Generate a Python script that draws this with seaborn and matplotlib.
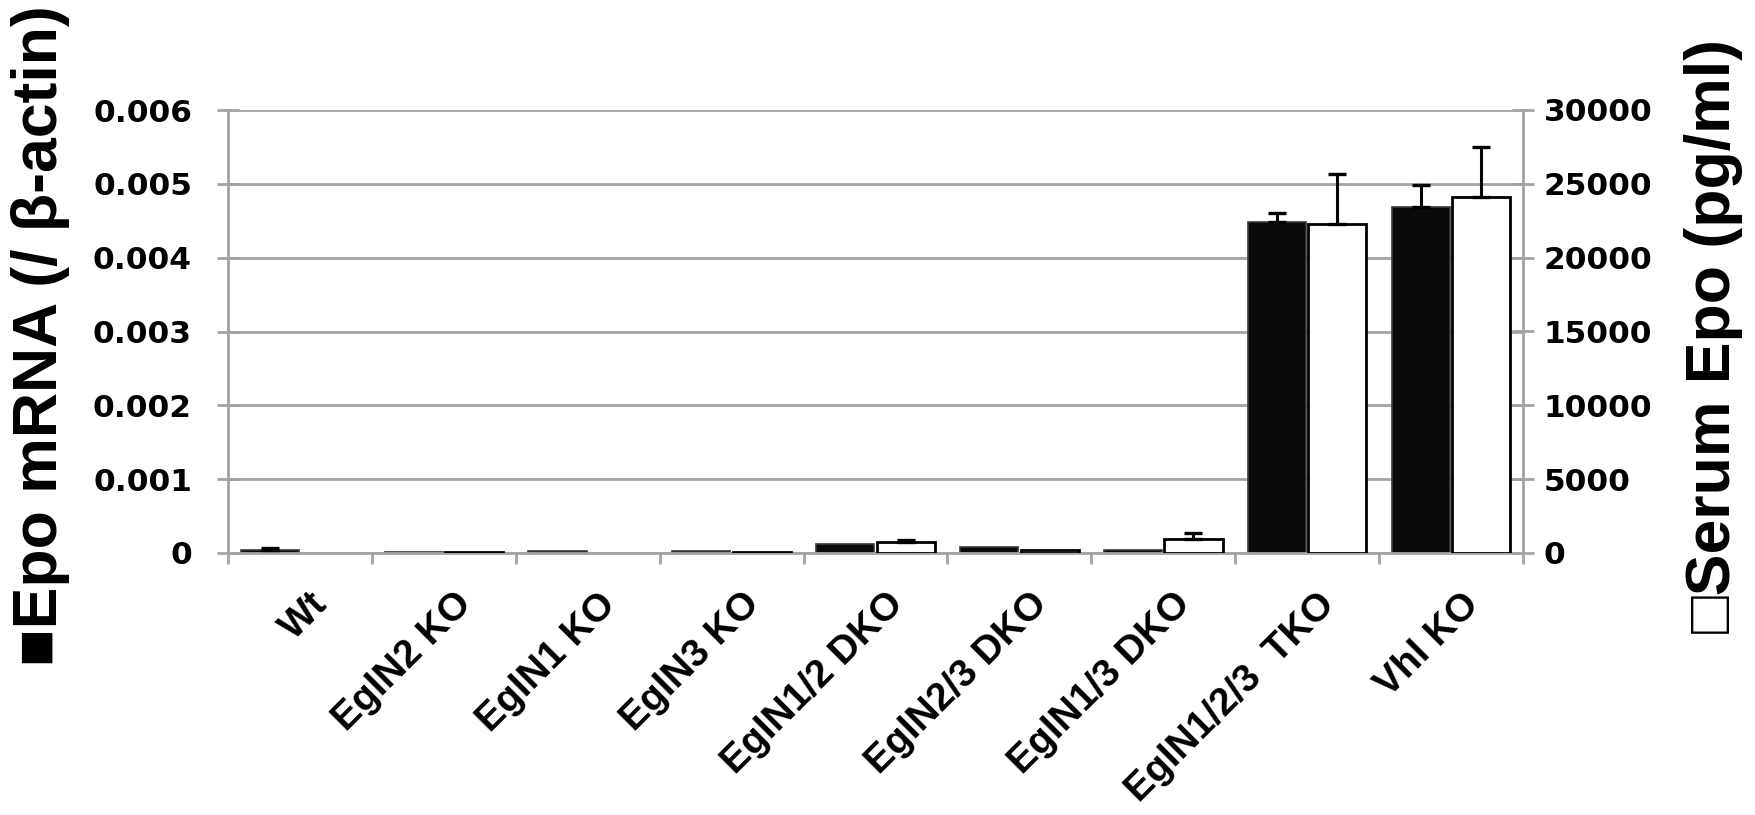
import matplotlib
matplotlib.use("Agg")
import matplotlib.pyplot as plt
import matplotlib.transforms as mtrans
import seaborn as sns
import pandas as pd
import numpy as np

# ---------------- data ----------------
groups = ["Wt", "EglN2 KO", "EglN1 KO", "EglN3 KO", "EglN1/2 DKO",
          "EglN2/3 DKO", "EglN1/3 DKO", "EglN1/2/3  TKO", "Vhl KO"]
mrna = [0.000047, 0.00001, 0.00003, 0.00003, 0.000116, 0.000085, 0.000038, 0.00448, 0.00469]
mrna_err = [0.00002, 0.0, 0.0, 0.0, 0.0, 0.0, 0.0, 0.00013, 0.00030]
serum = [0, 40, 0, 100, 720, 170, 930, 22260, 24140]
serum_err = [0, 0, 0, 0, 180, 0, 420, 3390, 3330]
series = ["mRNA", "Serum"]
left_ticks = [0, 0.001, 0.002, 0.003, 0.004, 0.005, 0.006]
left_ticklabels = ["0", "0.001", "0.002", "0.003", "0.004", "0.005", "0.006"]
right_ticks = [0, 5000, 10000, 15000, 20000, 25000, 30000]
right_ticklabels = ["0", "5000", "10000", "15000", "20000", "25000", "30000"]

df_m = pd.DataFrame({"group": groups, "value": mrna, "series": "mRNA"})
df_s = pd.DataFrame({"group": groups, "value": serum, "series": "Serum"})

# ---------------- style ----------------
sns.set_theme(style="white")
plt.rcParams["font.family"] = ["Liberation Sans", "DejaVu Sans"]
plt.rcParams["text.color"] = "black"
plt.rcParams["xtick.labelcolor"] = "black"
plt.rcParams["ytick.labelcolor"] = "black"
GRID = "#a3a3a3"

W, H = 1756, 815
fig = plt.figure(figsize=(W / 100, H / 100), dpi=100)
ax = fig.add_axes([228 / W, 1 - 553 / H, (1523 - 228) / W, (553 - 110) / H])
ax2 = ax.twinx()

palette = {"mRNA": "#0a0a0a", "Serum": "white"}
sns.barplot(data=df_m, x="group", y="value", hue="series", hue_order=series,
            order=groups, palette=palette, width=0.84, gap=0.04, dodge=True,
            saturation=1, errorbar=None, legend=False, ax=ax,
            edgecolor="#3a3a3a", linewidth=1.2)
sns.barplot(data=df_s, x="group", y="value", hue="series", hue_order=series,
            order=groups, palette=palette, width=0.84, gap=0.04, dodge=True,
            saturation=1, errorbar=None, legend=False, ax=ax2,
            edgecolor="black", linewidth=2.0)

# error bars from bar patches
def add_err(axis, errs):
    bars = [p for p in axis.patches if isinstance(p, matplotlib.patches.Rectangle)]
    xs, ys, es = [], [], []
    for p, e in zip(bars, errs):
        if p.get_height() == 0:
            p.set_edgecolor("none")
        if e > 0:
            xs.append(p.get_x() + p.get_width() / 2)
            ys.append(p.get_height())
            es.append(e)
    if xs:
        axis.errorbar(xs, ys, yerr=[np.zeros(len(es)), es], fmt="none",
                      ecolor="black", elinewidth=2.2, capsize=6.5, capthick=2.4,
                      zorder=5)

add_err(ax, mrna_err)
add_err(ax2, serum_err)

# axes limits
ax.set_ylim(0, 0.006)
ax2.set_ylim(0, 30000)
ax.set_xlim(-0.5, len(groups) - 0.5)

# grid
ax.set_axisbelow(True)
ax.yaxis.grid(True, color=GRID, linewidth=2.0)
ax.xaxis.grid(False)
ax2.grid(False)

# spines
for s in ["top", "right"]:
    ax.spines[s].set_visible(False)
for s in ["top", "left", "bottom"]:
    ax2.spines[s].set_visible(False)
for sp in [ax.spines["left"], ax.spines["bottom"], ax2.spines["right"]]:
    sp.set_color(GRID)
    sp.set_linewidth(2.0)

# y ticks
tickfont = dict(family=["DejaVu Sans"], weight="bold", size=22.5, color="black")
ax.set_yticks(left_ticks)
ax.set_yticklabels(left_ticklabels, **tickfont)
ax2.set_yticks(right_ticks)
ax2.set_yticklabels(right_ticklabels, **tickfont)
ax.tick_params(axis="y", direction="inout", length=16, width=2, color=GRID,
               pad=18, left=True, labelleft=True)
ax2.tick_params(axis="y", direction="inout", length=16, width=2, color=GRID,
                pad=7, right=True)

# x ticks: labels at centers, tick marks at boundaries
ax.set_xticks(np.arange(len(groups)))
ax.set_xticklabels(groups, rotation=45, ha="right", va="center",
                   rotation_mode="anchor", fontsize=28, fontweight="bold",
                   family=["Liberation Sans", "DejaVu Sans"], color="black")
ax.set_xticks(np.arange(len(groups) + 1) - 0.5, minor=True)
ax.tick_params(axis="x", which="major", length=0, pad=0, bottom=True)
ax.tick_params(axis="x", which="minor", direction="out", length=8, width=2,
               color=GRID, bottom=True)
offset = mtrans.ScaledTranslation(16 / 72, -33 / 72, fig.dpi_scale_trans)
for lab in ax.get_xticklabels():
    lab.set_transform(lab.get_transform() + offset)

ax.set_xlabel("")
ax.set_ylabel("")
ax2.set_ylabel("")

# axis titles
lblfont = dict(family=["Liberation Sans", "DejaVu Sans"], weight="bold", size=45,
               color="black")
fig.text(41 / W, 1 - 336 / H, "\u25a0Epo mRNA (/ \u03b2-actin)", rotation=90,
         ha="center", va="center", **lblfont)
fig.text(1714 / W, 1 - 336 / H, "\u25a1Serum Epo (pg/ml)", rotation=90,
         ha="center", va="center", **lblfont)

fig.savefig("out.png", dpi=100)
